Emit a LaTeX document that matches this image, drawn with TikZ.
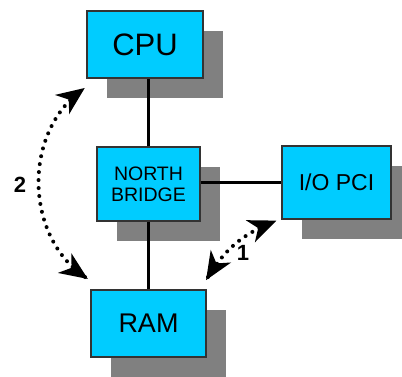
\documentclass[tikz,border=0pt]{standalone}
\usepackage{fontspec}
\setmainfont{Liberation Sans}
\usetikzlibrary{arrows.meta,shadows,decorations.markings}
\definecolor{boxcyan}{HTML}{00CCFF}
\definecolor{shadowgray}{HTML}{808080}
\definecolor{edgegray}{HTML}{333333}
\begin{document}
\begin{tikzpicture}[x=1pt,y=1pt,
  unit/.style={draw=edgegray, line width=1.2pt, fill=boxcyan, inner sep=0pt, align=center,
    general shadow={fill=shadowgray, shadow xshift=20pt, shadow yshift=-20pt}},
  bus/.style={line width=3.2pt, black},
  flow/.style={line width=4pt, dash pattern=on 0pt off 8pt, line cap=round,
    postaction={decorate, solid, line width=1pt, decoration={markings,
      mark=at position 0.002 with {\arrowreversed{Stealth[length=20pt,width=17pt,inset=6pt]}},
      mark=at position 0.998 with {\arrow{Stealth[length=20pt,width=17pt,inset=6pt]}}}}},
  num/.style={font=\fontsize{22}{22}\selectfont\bfseries}]
\useasboundingbox (0,0) rectangle (402,-377);
\fill[white] (0,0) rectangle (402,-377);
\node[unit, minimum width=116pt, minimum height=67pt, font=\fontsize{31}{31}\selectfont] (cpu) at (145,-44.5) {CPU};
\node[unit, minimum width=103pt, minimum height=74pt, font=\fontsize{19.5}{21}\selectfont] (nb) at (148.5,-184) {NORTH\\BRIDGE};
\node[unit, minimum width=109pt, minimum height=73pt, font=\fontsize{23}{23}\selectfont] (io) at (336.5,-182.5) {I/O PCI};
\node[unit, minimum width=115pt, minimum height=67pt, font=\fontsize{27}{27}\selectfont] (ram) at (148.5,-323.5) {RAM};
\draw[bus] (nb.north) -- (nb.north |- cpu.south);
\draw[bus] (nb.south) -- (nb.south |- ram.north);
\draw[bus] (nb.east |- io.west) -- (io.west);
\coordinate (a2) at (85,-277);
\coordinate (b2) at (82,-90);
\coordinate (a1) at (208,-277);
\coordinate (b1) at (273,-222);
\draw[flow] (a2) to[bend left=55] (b2);
\draw[flow] (a1) to[bend left=18] (b1);
\node[num] (l2) at (20,-185) {2};
\node[num] (l1) at (243,-253) {1};
\end{tikzpicture}
\end{document}
